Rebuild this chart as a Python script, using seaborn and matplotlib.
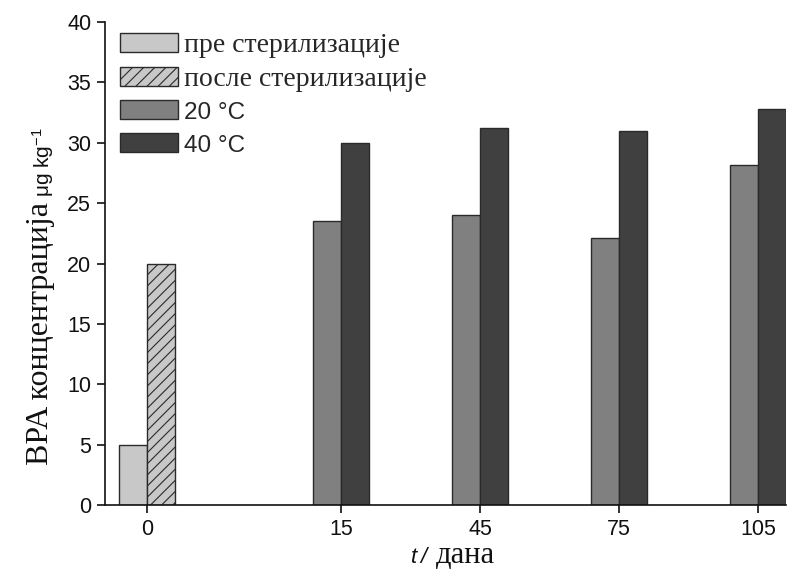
import matplotlib
matplotlib.use("Agg")
import matplotlib.pyplot as plt
import seaborn as sns
import pandas as pd
from matplotlib.patches import Patch

# Bar series (µg/kg)
days_labels = ["0", "15", "45", "75", "105"]
tick_pos = [0.0, 1.4, 2.4, 3.4, 4.4]
before_steril = [5.0]
after_steril = [20.0]
temp20 = [23.5, 24.0, 22.1, 28.2]
temp40 = [30.0, 31.2, 31.0, 32.8]

series_names = ["пре стерилизације", "после стерилизације", "20 °C", "40 °C"]
colors = ["#c8c8c8", "#c8c8c8", "#808080", "#404040"]

bw = 0.2
rows = []
rows.append((tick_pos[0] - bw / 2, before_steril[0], series_names[0]))
rows.append((tick_pos[0] + bw / 2, after_steril[0], series_names[1]))
for p, v in zip(tick_pos[1:], temp20):
    rows.append((p - bw / 2, v, series_names[2]))
for p, v in zip(tick_pos[1:], temp40):
    rows.append((p + bw / 2, v, series_names[3]))
df = pd.DataFrame(rows, columns=["pos", "value", "series"])

sns.set_style("ticks")
plt.rcParams["hatch.linewidth"] = 0.8
plt.rcParams["hatch.color"] = "#333333"
plt.rcParams["mathtext.fontset"] = "custom"
plt.rcParams["mathtext.rm"] = "Liberation Sans"
plt.rcParams["mathtext.it"] = "Liberation Sans:italic"

fig = plt.figure(figsize=(7.89, 5.72), dpi=100)
ax = fig.add_axes([0.1331, 0.1171, 0.8631, 0.8444])

sns.barplot(data=df, x="pos", y="value", hue="series", hue_order=series_names,
            palette=colors, native_scale=True, dodge=False, width=1.0,
            edgecolor="#2a2a2a", linewidth=1.0, legend=False, ax=ax, errorbar=None)

# hatch the post-sterilization bar
for patch in ax.patches:
    x0 = patch.get_x()
    if abs(x0 - tick_pos[0]) < 1e-6 and patch.get_height() > 0:
        patch.set_hatch("///")

ax.set_xlim(-0.30, 4.6)
ax.set_ylim(0, 40)
ax.set_yticks(range(0, 41, 5))
ax.set_xticks(tick_pos)
ax.set_xticklabels(days_labels)
sns.despine(ax=ax)
for s in ["left", "bottom"]:
    ax.spines[s].set_linewidth(1.2)
    ax.spines[s].set_color("#111111")
ax.tick_params(direction="out", length=6, width=1.2, color="#111111",
               labelsize=15.5, labelcolor="#111111", pad=4)
for lab in ax.get_xticklabels() + ax.get_yticklabels():
    lab.set_fontfamily("Liberation Sans")
ax.set_xlabel("")
ax.set_ylabel("")

# legend
handles = []
for name, c in zip(series_names, colors):
    h = Patch(facecolor=c, edgecolor="#2a2a2a", linewidth=1.0,
              hatch="///" if name == series_names[1] else None)
    handles.append(h)
leg = ax.legend(handles, series_names, loc="upper left", bbox_to_anchor=(-0.003, 1.012),
                frameon=False, fontsize=20, handlelength=2.1, handleheight=0.68,
                labelspacing=0.3, handletextpad=0.2, borderaxespad=0.2)
for i, t in enumerate(leg.get_texts()):
    if i < 2:
        t.set_fontfamily("Liberation Serif")
    else:
        t.set_fontfamily("Liberation Sans")
        t.set_fontsize(17.5)

# y-axis title: serif words followed by sans-serif unit
ylab1 = fig.text(48 / 789, 1 - 465 / 572, "BPA концентрација", rotation=90,
                 rotation_mode="anchor", ha="left", va="baseline",
                 fontsize=23, family="Liberation Serif", color="#111111")
fig.canvas.draw()
bb = ylab1.get_window_extent(fig.canvas.get_renderer())
fig.text(50 / 789, (bb.y1 + 5) / fig.bbox.height, r"μg kg$^{-1}$", rotation=90,
         rotation_mode="anchor", ha="left", va="baseline",
         fontsize=15, family="Liberation Sans", color="#111111")

# x-axis title
fig.text(411 / 789, 1 - 563 / 572, "t", fontsize=16, style="italic",
         family="Liberation Sans", ha="left", va="baseline", color="#111111")
fig.text(420 / 789, 1 - 563 / 572, "/", fontsize=16, style="italic",
         family="Liberation Sans", ha="left", va="baseline", color="#111111")
fig.text(436 / 789, 1 - 563 / 572, "дана", fontsize=22,
         family="Liberation Serif", ha="left", va="baseline", color="#111111")

fig.savefig("out.png", dpi=100)
